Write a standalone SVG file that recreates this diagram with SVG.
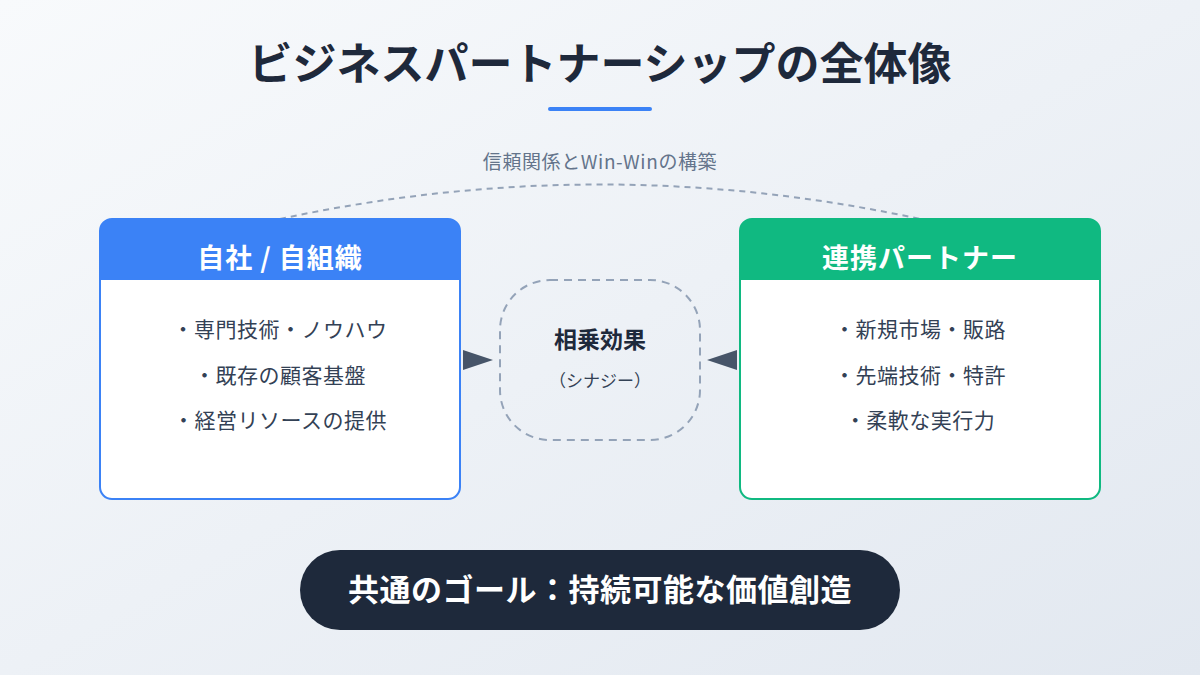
<svg xmlns="http://www.w3.org/2000/svg" width="1200" height="675" viewBox="0 0 1200 675">
<defs>
<linearGradient id="bg" x1="0" y1="0" x2="1" y2="1"><stop offset="0" stop-color="#f8fafc"/><stop offset="1" stop-color="#e2e8f0"/></linearGradient>
<style>
text{font-family:"Noto Sans CJK JP","Noto Sans",sans-serif;text-anchor:middle}
.item{font-size:21px;fill:#334155;letter-spacing:0.5px}
.hd{font-size:27px;font-weight:700;fill:#fff;letter-spacing:1px}
</style>
</defs>
<rect width="1200" height="675" fill="url(#bg)"/>
<text x="600" y="80" font-size="44" font-weight="700" fill="#1e293b">ビジネスパートナーシップの全体像</text>
<rect x="548" y="107" width="104" height="4" rx="2" fill="#3b82f6"/>
<g id="connectors">
<path d="M280 219 Q600 150 920 219" fill="none" stroke="#94a3b8" stroke-width="2" stroke-dasharray="6 5"/>
<text x="600" y="169" font-size="19" fill="#64748b" letter-spacing="0.6">信頼関係とWin-Winの構築</text>
<polygon points="463,350 493,360 463,370" fill="#475569"/>
<polygon points="737,350 707,360 737,370" fill="#475569"/>
</g>
<g id="self">
<rect x="100" y="219" width="360" height="280" rx="12" fill="#fff" stroke="#3b82f6" stroke-width="2"/>
<path d="M100 280 V231 A12 12 0 0 1 112 219 H448 A12 12 0 0 1 460 231 V280 Z" fill="#3b82f6"/>
<text class="hd" x="280" y="268">自社 / 自組織</text>
<text class="item" x="280" y="337">・専門技術・ノウハウ</text>
<text class="item" x="280" y="383">・既存の顧客基盤</text>
<text class="item" x="280" y="428">・経営リソースの提供</text>
</g>
<g id="partner">
<rect x="740" y="219" width="360" height="280" rx="12" fill="#fff" stroke="#10b981" stroke-width="2"/>
<path d="M740 280 V231 A12 12 0 0 1 752 219 H1088 A12 12 0 0 1 1100 231 V280 Z" fill="#10b981"/>
<text class="hd" x="920" y="268">連携パートナー</text>
<text class="item" x="920" y="337">・新規市場・販路</text>
<text class="item" x="920" y="383">・先端技術・特許</text>
<text class="item" x="920" y="428">・柔軟な実行力</text>
</g>
<g id="synergy">
<rect x="500" y="280" width="200" height="160" rx="50" fill="none" stroke="#94a3b8" stroke-width="2" stroke-dasharray="8 6"/>
<text x="600" y="348" font-size="23" font-weight="700" fill="#1e293b">相乗効果</text>
<text x="600" y="387" font-size="17" fill="#334155">（シナジー）</text>
</g>
<g id="goal">
<rect x="300" y="550" width="600" height="80" rx="40" fill="#1e293b"/>
<text x="600" y="601" font-size="31" font-weight="700" fill="#fff" letter-spacing="0.5">共通のゴール：持続可能な価値創造</text>
</g>
</svg>
